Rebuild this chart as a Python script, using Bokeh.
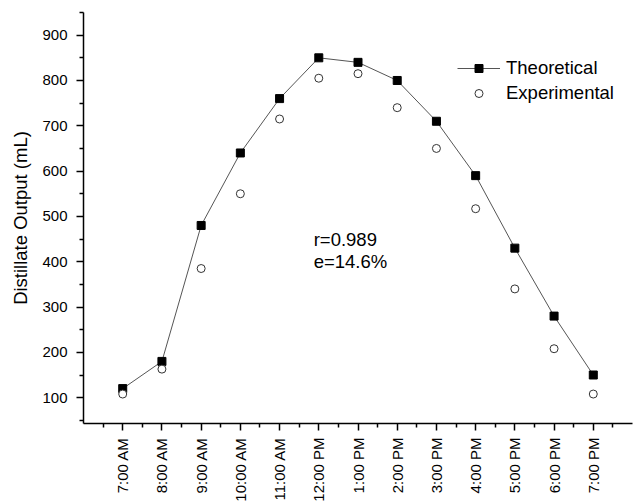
from bokeh.plotting import figure
from bokeh.models import FixedTicker, Legend, LegendItem, Label, Range1d
from bokeh.embed import file_html
from bokeh.resources import INLINE

times = ["7:00 AM", "8:00 AM", "9:00 AM", "10:00 AM", "11:00 AM", "12:00 PM",
         "1:00 PM", "2:00 PM", "3:00 PM", "4:00 PM", "5:00 PM", "6:00 PM", "7:00 PM"]
theoretical = [120, 180, 480, 640, 760, 850, 840, 800, 710, 590, 430, 280, 150]
experimental = [108, 163, 385, 550, 715, 805, 815, 740, 650, 517, 340, 208, 108]
y_ticks = [100, 200, 300, 400, 500, 600, 700, 800, 900]
r_text = "r=0.989"
e_text = "e=14.6%"

idx = list(range(len(times)))
FONT = "Liberation Sans"

p = figure(width=637, height=504, output_backend="svg", toolbar_location=None,
           x_range=Range1d(-1, len(times)), y_range=Range1d(43, 950),
           min_border_left=83, min_border_right=5, min_border_top=12, min_border_bottom=80)
p.outline_line_color = None
p.grid.visible = False
p.background_fill_color = "white"
p.border_fill_color = "white"

line = p.line(idx, theoretical, line_color="#555555", line_width=1)
sq = p.scatter(idx, theoretical, marker="square", size=8, fill_color="black", line_color="black")
circ = p.scatter(idx, experimental, marker="circle", size=8, fill_color="white",
                 line_color="#333333", line_width=1)

# axes
xa = p.xaxis[0]
xa.ticker = FixedTicker(ticks=idx, minor_ticks=[i - 0.5 for i in idx] + [len(times) - 0.5])
xa.major_label_overrides = {i: t for i, t in zip(idx, times)}
xa.major_label_orientation = 3.14159265 / 2

ya = p.yaxis[0]
ya.ticker = FixedTicker(ticks=y_ticks, minor_ticks=[v - 50 for v in y_ticks] + [950])
ya.axis_label = "Distillate Output (mL)"

for ax in (xa, ya):
    ax.axis_line_color = "black"
    ax.axis_line_width = 1.5
    ax.major_tick_line_color = "black"
    ax.major_tick_line_width = 1.5
    ax.minor_tick_line_color = "black"
    ax.minor_tick_line_width = 1.5
    ax.major_tick_in = 0
    ax.major_tick_out = 7
    ax.minor_tick_in = 0
    ax.minor_tick_out = 4
    ax.major_label_text_font = FONT
    ax.major_label_text_font_size = "15px"
    ax.major_label_text_color = "black"
    ax.axis_label_text_font = FONT
    ax.axis_label_text_font_size = "18.5px"
    ax.axis_label_text_font_style = "normal"
    ax.axis_label_text_color = "black"
xa.major_label_standoff = 7
xa.axis_label_standoff = 0
ya.major_label_standoff = 9
ya.axis_label_standoff = 8

legend = Legend(items=[LegendItem(label="Theoretical", renderers=[line, sq]),
                       LegendItem(label="Experimental", renderers=[circ])],
                location=(374, 319), padding=0, margin=0, spacing=3,
                glyph_width=43, glyph_height=20, label_height=20, label_standoff=6,
                label_text_font=FONT, label_text_font_size="18.5px",
                label_text_color="black", border_line_color=None,
                background_fill_alpha=0)
p.add_layout(legend)

for txt, yv in ((r_text, 448), (e_text, 400)):
    p.add_layout(Label(x=4.87, y=yv, text=txt, text_font=FONT, text_font_size="18.5px",
                       text_color="black", text_baseline="middle", text_align="left"))

open("out.html", "w").write(file_html(p, INLINE))
